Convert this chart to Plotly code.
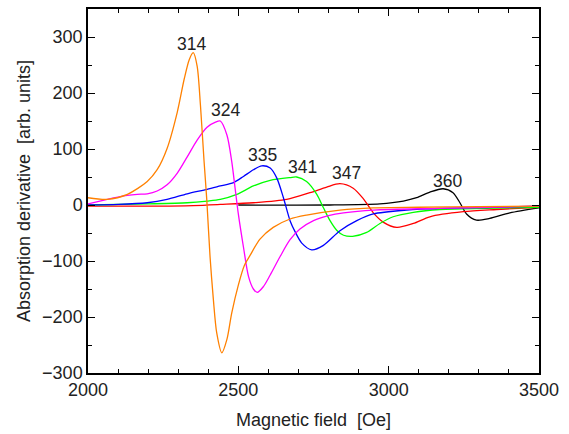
import plotly.graph_objects as go

# ---- data ----
x_314 = [2000, 2064, 2131, 2197, 2230, 2263, 2297, 2320, 2337, 2350, 2363, 2374, 2386, 2395,
         2406, 2417, 2428, 2445, 2462, 2478, 2500, 2520, 2539, 2572, 2616, 2672, 2727, 2838,
         2949, 3100, 3300, 3500]
y_314 = [13, 10, 19, 42, 63, 101, 166, 225, 260, 272, 248, 178, 78, 10,
         -93, -169, -228, -264, -240, -193, -143, -108, -90, -61, -40, -25, -18, -9,
         -5, -4, -3, -2]

x_324 = [2000, 2064, 2131, 2164, 2197, 2230, 2263, 2297, 2330, 2363, 2396, 2424, 2440, 2462,
         2478, 2489, 2500, 2517, 2534, 2550, 2563, 2583, 2606, 2639, 2672, 2705, 2750, 2800,
         2850, 2950, 3170, 3500]
y_324 = [2, 10, 17, 19, 20, 25, 36, 57, 86, 116, 139, 148, 150, 125,
         78, 31, -16, -75, -128, -150, -156, -146, -125, -92, -62, -43, -28, -19,
         -14, -9, -6, -2]

x_335 = [2000, 2100, 2197, 2263, 2330, 2396, 2440, 2484, 2517, 2550, 2578, 2606, 2628, 2650,
         2672, 2689, 2711, 2744, 2783, 2838, 2894, 2949, 3060, 3170, 3350, 3500]
y_335 = [0, 1, 4, 10, 20, 28, 34, 40, 51, 63, 70, 66, 48, 13,
         -28, -48, -68, -80, -72, -46, -28, -16, -9, -6, -4, -2]

x_341 = [2000, 2200, 2330, 2396, 2440, 2495, 2550, 2606, 2672, 2694, 2727, 2761, 2783, 2805,
         2827, 2850, 2880, 2927, 2971, 3015, 3082, 3170, 3248, 3500]
y_341 = [0, 2, 4, 7, 10, 19, 34, 44, 49, 50, 42, 19, -5, -28,
         -45, -54, -56, -49, -33, -21, -13, -8, -7, -4]

x_347 = [2000, 2200, 2350, 2440, 2550, 2661, 2738, 2794, 2838, 2882, 2916, 2949, 2983, 3027,
         3082, 3137, 3248, 3359, 3500]
y_347 = [-2, -2, -1, 1, 4, 10, 22, 32, 38, 30, 11, -14, -31, -40,
         -33, -21, -12, -8, -4]

x_360 = [2500, 2805, 2971, 3049, 3093, 3137, 3181, 3214, 3237, 3259, 3292, 3336, 3403, 3500]
y_360 = [0, 0, 2, 7, 13, 23, 29, 22, 4, -16, -27, -24, -14, -5]

series = [
    ("360", x_360, y_360, "#000000"),
    ("347", x_347, y_347, "#FF0000"),
    ("341", x_341, y_341, "#00FF00"),
    ("335", x_335, y_335, "#0000FF"),
    ("324", x_324, y_324, "#FF00FF"),
    ("314", x_314, y_314, "#FF8000"),
]

label_text = ["314", "324", "335", "341", "347", "360"]
label_x = [2344, 2456, 2581, 2714, 2860, 3195]
label_y = [288, 169, 90, 68, 57, 42]

fig = go.Figure()
for name, xs, ys, col in series:
    fig.add_trace(go.Scatter(x=xs, y=ys, mode="lines", name=name,
                             line=dict(color=col, width=1.3, shape="spline", smoothing=0.8),
                             showlegend=False))

for t, xv, yv in zip(label_text, label_x, label_y):
    fig.add_annotation(x=xv, y=yv, text=t, showarrow=False,
                       font=dict(size=17.5, color="#222222"))

axis_common = dict(showgrid=False, zeroline=False, showline=True, linecolor="black",
                   linewidth=1.5, mirror="allticks", ticks="inside", ticklen=7,
                   tickwidth=1.2, tickcolor="black",
                   tickfont=dict(size=18, color="#222222"))

fig.update_xaxes(range=[2000, 3500], dtick=500, tick0=2000,
                 minor=dict(dtick=100, ticklen=4, ticks="inside", tickcolor="black", tickwidth=1.2),
                 title=dict(text="Magnetic field \u00a0[Oe]", font=dict(size=18, color="#222222"), standoff=14),
                 **axis_common)
fig.update_yaxes(range=[-300, 350], dtick=100, tick0=0,
                 minor=dict(dtick=50, ticklen=4, ticks="inside", tickcolor="black", tickwidth=1.2),
                 title=dict(text="Absorption derivative \u00a0[arb. units]", font=dict(size=18, color="#222222"), standoff=7),
                 **axis_common)

fig.update_layout(width=569, height=434,
                  margin=dict(l=88, r=30, t=7, b=60),
                  paper_bgcolor="white", plot_bgcolor="white",
                  font=dict(family="Liberation Sans, Arial, sans-serif", color="#222222"))

fig.write_html("out.html")
